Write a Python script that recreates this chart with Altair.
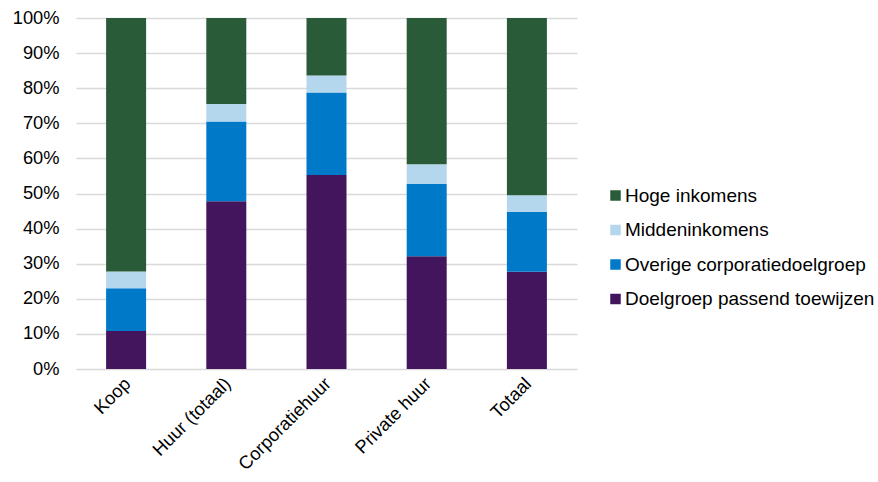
import altair as alt
import pandas as pd

categories = ["Koop", "Huur (totaal)", "Corporatiehuur", "Private huur", "Totaal"]
series = ["Doelgroep passend toewijzen", "Overige corporatiedoelgroep", "Middeninkomens", "Hoge inkomens"]
doelgroep = [10.8, 47.8, 55.3, 32.1, 27.7]
overige = [12.2, 22.7, 23.5, 20.7, 17.1]
midden = [4.8, 5.0, 4.8, 5.5, 4.7]
hoge = [72.2, 24.5, 16.4, 41.7, 50.5]
colors = ["#42155C", "#007AC8", "#B4D7EE", "#2A5B38"]

rows = []
for vals, s, o in zip([doelgroep, overige, midden, hoge], series, range(4)):
    for c, v in zip(categories, vals):
        rows.append({"cat": c, "serie": s, "val": v / 100, "ord": o})
df = pd.DataFrame(rows)

font = "Arial"
fs = 18.3
chart = alt.Chart(df).mark_bar(size=40).encode(
    x=alt.X("cat:N", sort=categories, title=None,
            scale=alt.Scale(paddingInner=0.6, paddingOuter=0.3),
            axis=alt.Axis(labelAngle=-45, labelAlign="right", labelBaseline="middle",
                          labelFontSize=fs, labelFont=font, labelColor="#000000",
                          ticks=False, domain=False, labelPadding=12, labelOffset=2)),
    y=alt.Y("val:Q", stack="zero", title=None,
            scale=alt.Scale(domain=[0, 1]),
            axis=alt.Axis(format=".0%", values=[i / 10 for i in range(11)],
                          labelFontSize=fs, labelFont=font, labelColor="#000000",
                          ticks=False, domain=False, labelPadding=17,
                          gridColor="#D9D9D9", gridWidth=1.5)),
    color=alt.Color("serie:N",
                    scale=alt.Scale(domain=series, range=colors),
                    legend=alt.Legend(title=None, orient="none", legendX=530, legendY=168,
                                      values=list(reversed(series)),
                                      symbolType="square", symbolSize=110, symbolStrokeWidth=0,
                                      labelFontSize=19, labelFont=font, labelColor="#000000",
                                      rowPadding=14.5, labelOffset=0, labelLimit=400)),
    order=alt.Order("ord:Q"),
).properties(
    width=501, height=351,
    autosize=alt.AutoSizeParams(type="none"),
    padding={"left": 76, "top": 18, "right": 301, "bottom": 113},
).configure_view(stroke=None)

chart.save("out.html", embed_options={"renderer": "svg", "actions": False})
